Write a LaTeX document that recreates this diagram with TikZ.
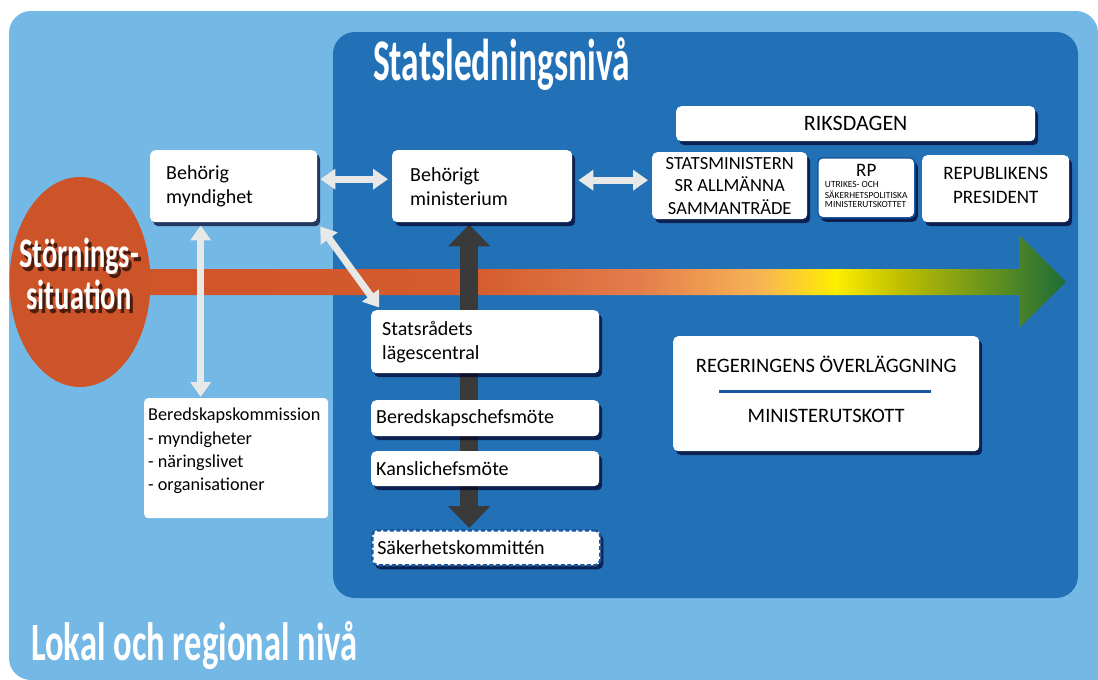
\documentclass[tikz,border=0pt]{standalone}
\usepackage{fontspec}
\setmainfont{Carlito}
\usetikzlibrary{arrows.meta,shadows,shapes.geometric}

\definecolor{levellight}{RGB}{116,184,230}
\definecolor{levelpanel}{RGB}{34,113,183}
\definecolor{stoerred}{RGB}{205,83,40}
\definecolor{flowA}{RGB}{207,83,40}
\definecolor{flowB}{RGB}{212,92,46}
\definecolor{flowC}{RGB}{228,125,76}
\definecolor{flowD}{RGB}{247,180,84}
\definecolor{flowE}{RGB}{255,238,0}
\definecolor{flowF}{RGB}{190,190,0}
\definecolor{flowG}{RGB}{28,108,56}
\definecolor{linkgray}{RGB}{232,232,232}
\definecolor{flowdark}{RGB}{58,58,58}
\definecolor{ruleblue}{RGB}{24,86,160}

\pgfdeclarehorizontalshading{flowshade}{100bp}{color(0bp)=(flowA); color(25bp)=(flowA); color(45bp)=(flowB); color(53.4bp)=(flowC); color(59.5bp)=(flowD); color(63.3bp)=(flowE); color(66.6bp)=(flowF); color(75bp)=(flowG); color(100bp)=(flowG)}

\pgfdeclarelayer{levels}
\pgfdeclarelayer{links}
\pgfsetlayers{levels,links,main}

\newcommand{\narrow}[2][0.6]{\scalebox{#1}[1]{#2}}
% text with a dark shadow behind it
\newcommand{\shadowed}[1]{\makebox[0pt][l]{\hspace{3pt}\raisebox{-4pt}{\textcolor{stoerred!35!black}{#1}}}#1}

\tikzset{
  box/.style={fill=white, rounded corners=5pt, anchor=north west, inner sep=0pt,
    drop shadow={shadow xshift=3pt, shadow yshift=-4pt, fill=black!85!blue, opacity=0.7}},
  lefttext/.style={font=\fontsize{20}{24}\selectfont, align=left},
  link/.style={draw=linkgray, line width=7pt,
    arrows={Triangle[width=20pt,length=15pt]-Triangle[width=20pt,length=15pt]}},
  flowlink/.style={draw=flowdark, line width=18pt,
    arrows={Triangle[width=41pt,length=22pt]-Triangle[width=41pt,length=22pt]}},
  title/.style={text=white, inner sep=0pt, anchor=base west}
}

\begin{document}
\begin{tikzpicture}[x=1pt,y=-1pt]
\useasboundingbox (0,0) rectangle (1098,680);

\begin{pgfonlayer}{levels}
% levels
\fill[levellight, rounded corners=22pt] (9,11) rectangle (1098,680);
\fill[levellight] (1000,600) rectangle (1098,680);
\fill[levelpanel, rounded corners=22pt] (333,32) rectangle (1078,598);
\node[title, font=\fontsize{59}{59}\selectfont\bfseries] (statstitle) at (373,80) {\narrow{Statsledningsnivå}};
\node[title, font=\fontsize{54}{54}\selectfont\bfseries] (lokaltitle) at (31,660) {\narrow[0.64]{Lokal och regional nivå}};
% flow arrow and disturbance
\shade[shading=flowshade] (80,269) -- (1019,269) -- (1019,235) -- (1066,282) -- (1019,328) -- (1019,295) -- (80,295) -- cycle;
\node[ellipse, fill=stoerred, minimum width=141pt, minimum height=210pt] (stoer) at (80,282) {};
\node[align=center, text=white, font=\fontsize{42}{34}\selectfont\bfseries] (stoertext) at (79,276)
  {\shadowed{\narrow[0.68]{Störnings-}}\\\shadowed{\narrow[0.68]{situation}}};
\end{pgfonlayer}

% boxes
\node[box, minimum width=167pt, minimum height=72pt, text width=135pt, lefttext] (myn) at (150,150) {Behörig\\myndighet};
\node[box, minimum width=180pt, minimum height=72pt, text width=144pt, lefttext] (min) at (392,150) {Behörigt\\ministerium};
\node[box, minimum width=228pt, minimum height=63pt, text width=206pt, lefttext] (lage) at (371,310) {Statsrådets\\lägescentral};
\node[box, minimum width=228pt, minimum height=36pt, text width=218pt, lefttext] (bered) at (371,400) {Beredskapschefsmöte};
\node[box, minimum width=228pt, minimum height=35pt, text width=218pt, lefttext] (kansli) at (371,451) {Kanslichefsmöte};
\node[box, minimum width=228pt, minimum height=35pt, text width=218pt, lefttext,
  draw=ruleblue, dash pattern=on 4pt off 2.5pt, line width=2.5pt] (saek) at (371,529) {Säkerhetskommittén};
\node[fill=white, rounded corners=4pt, anchor=north west, inner sep=0pt, minimum width=184pt, minimum height=120pt] (kom) at (144,398)
  {\parbox[c][100pt][t]{176pt}{\fontsize{18.2}{23.3}\selectfont Beredskapskommission\\- myndigheter\\- näringslivet\\- organisationer}};

\node[box, minimum width=359pt, minimum height=35pt, font=\fontsize{22}{22}\selectfont] (riks) at (676,106) {RIKSDAGEN};
\node[box, minimum width=155pt, minimum height=67pt, align=center, font=\fontsize{18.5}{22.5}\selectfont] (smin) at (652,152) {STATSMINISTERN\\SR ALLMÄNNA\\SAMMANTRÄDE};
\node[box, draw=ruleblue, line width=1.5pt, minimum width=97pt, minimum height=60pt, align=center] (rp) at (817,157)
  {{\fontsize{19}{20}\selectfont RP}\\[3pt]{\fontsize{9.4}{9.8}\selectfont\begin{tabular}{@{}l@{}}UTRIKES- OCH\\SÄKERHETSPOLITISKA\\MINISTERUTSKOTTET\end{tabular}}};
\node[box, minimum width=147pt, minimum height=67pt, align=center, font=\fontsize{19}{24}\selectfont] (pres) at (922,155) {REPUBLIKENS\\PRESIDENT\rule[-6pt]{0pt}{0pt}};
\node[box, minimum width=306pt, minimum height=115pt, align=center, font=\fontsize{20.5}{24}\selectfont] (reg) at (673,336) {REGERINGENS ÖVERLÄGGNING\\[26pt]MINISTERUTSKOTT\rule[-9pt]{0pt}{0pt}};
\draw[ruleblue, line width=3pt] ([xshift=46pt,yshift=2.5pt]reg.west) -- ([xshift=-48pt,yshift=2.5pt]reg.east);

% links
\begin{pgfonlayer}{links}
\draw[flowlink, shorten <=2pt, shorten >=1pt] ([xshift=-13pt]min.south) -- ([xshift=-13pt]min.south |- saek.north);
\draw[link, shorten <=3pt, shorten >=4pt] ([yshift=7pt]myn.east) -- ([yshift=7pt]min.west);
\draw[link, shorten <=6pt, shorten >=4pt] ([yshift=6pt]min.east) -- ([yshift=6pt]min.east -| smin.west);
\draw[link, shorten <=5pt, shorten >=3pt] (myn.south east) -- ([xshift=10pt]lage.north west);
\draw[link, shorten <=3pt, shorten >=1pt] ([xshift=-33pt]myn.south) -- ([xshift=-33pt]myn.south |- kom.north);
\end{pgfonlayer}
\end{tikzpicture}
\end{document}
